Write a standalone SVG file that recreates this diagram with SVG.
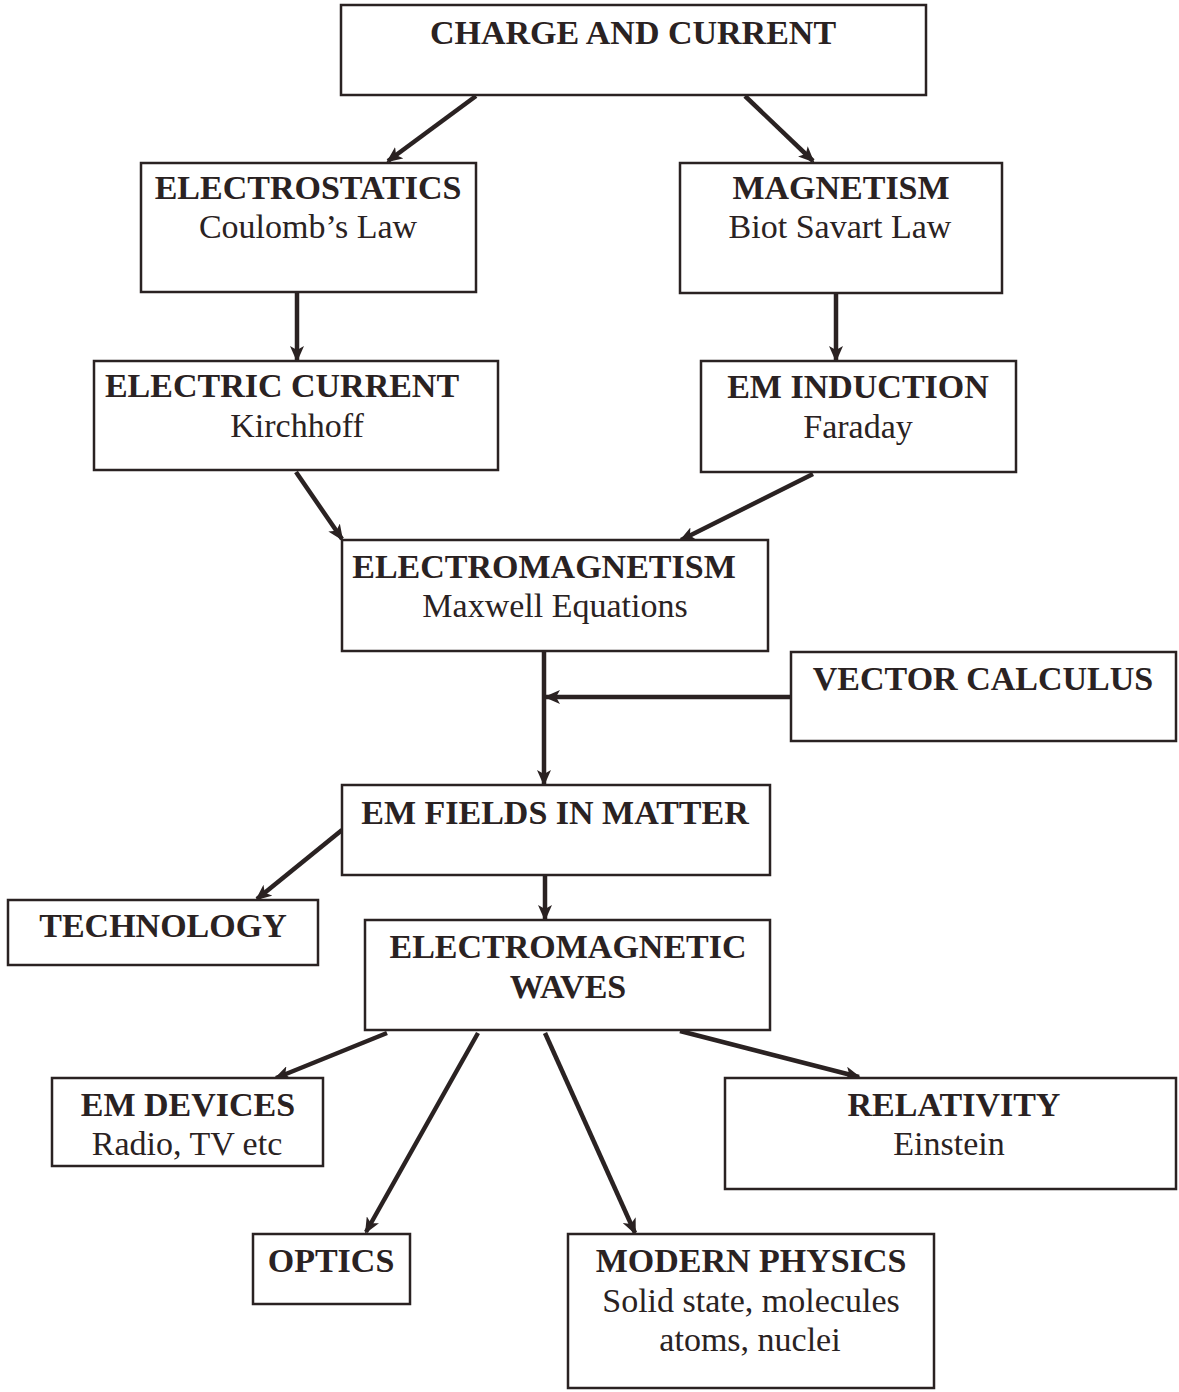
<svg xmlns="http://www.w3.org/2000/svg" width="1179" height="1392" viewBox="0 0 1179 1392">
<style>
.box{fill:#ffffff;stroke:#2a2222;stroke-width:2.5}
.t{font-family:"Liberation Serif","Times New Roman",serif;font-size:34px;fill:#2a2222;text-anchor:middle}
.b{font-weight:bold}
.c{stroke:#2a2222;stroke-width:4.5;fill:none;marker-end:url(#ah)}
</style>
<defs>
<marker id="ah" markerUnits="userSpaceOnUse" markerWidth="16" markerHeight="14" refX="14" refY="7" orient="auto">
<path d="M0,0 L16,7 L0,14 L4,7 Z" fill="#2a2222"/>
</marker>
</defs>
<rect width="1179" height="1392" fill="#ffffff"/>
<g id="connectors">
<line class="c" x1="476" y1="96" x2="388" y2="161"/>
<line class="c" x1="745" y1="96" x2="813" y2="161"/>
<line class="c" x1="297" y1="293" x2="297" y2="360"/>
<line class="c" x1="836" y1="293" x2="836" y2="360"/>
<line class="c" x1="296" y1="472" x2="342" y2="539"/>
<line class="c" x1="813" y1="474" x2="681" y2="540"/>
<line class="c" x1="544" y1="652" x2="544" y2="784"/>
<line class="c" x1="791" y1="697" x2="546" y2="697"/>
<line class="c" x1="342" y1="830" x2="257" y2="899"/>
<line class="c" x1="545" y1="876" x2="545" y2="919"/>
<line class="c" x1="387" y1="1033" x2="276" y2="1078"/>
<line class="c" x1="478" y1="1033" x2="366" y2="1232"/>
<line class="c" x1="545" y1="1033" x2="635" y2="1233"/>
<line class="c" x1="680" y1="1031" x2="859" y2="1077"/>
</g>
<g id="charge">
<rect class="box" x="341" y="5" width="585" height="90"/>
<text class="t b" x="633" y="44">CHARGE AND CURRENT</text>
</g>
<g id="electrostatics">
<rect class="box" x="141" y="163" width="335" height="129"/>
<text class="t b" x="308" y="199">ELECTROSTATICS</text>
<text class="t" x="308" y="238">Coulomb’s Law</text>
</g>
<g id="magnetism">
<rect class="box" x="680" y="163" width="322" height="130"/>
<text class="t b" x="841" y="199">MAGNETISM</text>
<text class="t" x="840" y="238">Biot Savart Law</text>
</g>
<g id="electric-current">
<rect class="box" x="94" y="361" width="404" height="109"/>
<text class="t b" x="282" y="397">ELECTRIC CURRENT</text>
<text class="t" x="297" y="437">Kirchhoff</text>
</g>
<g id="em-induction">
<rect class="box" x="701" y="361" width="315" height="111"/>
<text class="t b" x="858" y="398">EM INDUCTION</text>
<text class="t" x="858" y="438">Faraday</text>
</g>
<g id="electromagnetism">
<rect class="box" x="342" y="540" width="426" height="111"/>
<text class="t b" x="544" y="578">ELECTROMAGNETISM</text>
<text class="t" x="555" y="617">Maxwell Equations</text>
</g>
<g id="vector-calculus">
<rect class="box" x="791" y="652" width="385" height="89"/>
<text class="t b" x="983" y="690">VECTOR CALCULUS</text>
</g>
<g id="em-fields">
<rect class="box" x="342" y="785" width="428" height="90"/>
<text class="t b" x="555" y="824">EM FIELDS IN MATTER</text>
</g>
<g id="technology">
<rect class="box" x="8" y="900" width="310" height="65"/>
<text class="t b" x="163" y="937">TECHNOLOGY</text>
</g>
<g id="em-waves">
<rect class="box" x="365" y="920" width="405" height="110"/>
<text class="t b" x="568" y="958">ELECTROMAGNETIC</text>
<text class="t b" x="568" y="998">WAVES</text>
</g>
<g id="em-devices">
<rect class="box" x="52" y="1078" width="271" height="88"/>
<text class="t b" x="188" y="1116">EM DEVICES</text>
<text class="t" x="187" y="1155">Radio, TV etc</text>
</g>
<g id="relativity">
<rect class="box" x="725" y="1078" width="451" height="111"/>
<text class="t b" x="954" y="1116">RELATIVITY</text>
<text class="t" x="949" y="1155">Einstein</text>
</g>
<g id="optics">
<rect class="box" x="253" y="1234" width="157" height="70"/>
<text class="t b" x="331" y="1272">OPTICS</text>
</g>
<g id="modern-physics">
<rect class="box" x="568" y="1234" width="366" height="154"/>
<text class="t b" x="751" y="1272">MODERN PHYSICS</text>
<text class="t" x="751" y="1312">Solid state, molecules</text>
<text class="t" x="750" y="1351">atoms, nuclei</text>
</g>
</svg>
